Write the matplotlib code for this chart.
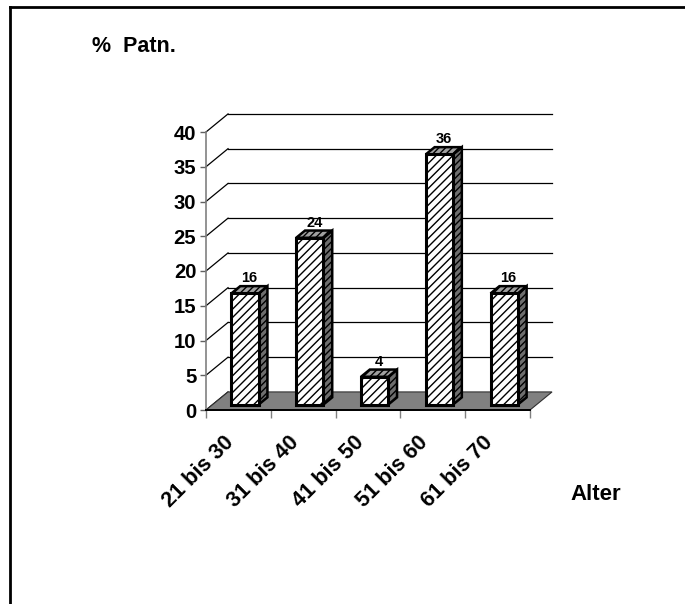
import matplotlib
matplotlib.use("Agg")
import matplotlib.pyplot as plt
from matplotlib.patches import Polygon, Rectangle
from matplotlib.lines import Line2D
from matplotlib.transforms import ScaledTranslation

# Data
categories = ["21 bis 30", "31 bis 40", "41 bis 50", "51 bis 60", "61 bis 70"]
values = [16, 24, 4, 36, 16]
y_ticks = [0, 5, 10, 15, 20, 25, 30, 35, 40]
y_label = "%  Patn."
x_label = "Alter"

plt.rcParams["font.family"] = ["Liberation Sans", "DejaVu Sans"]
plt.rcParams["font.weight"] = "bold"
plt.rcParams["hatch.linewidth"] = 1.0

W, H = 685, 604
fig = plt.figure(figsize=(W / 100, H / 100), dpi=100)

# Front plane of the 3-D box
ax = fig.add_axes([206 / W, 194 / H, 324 / W, 278 / H])
ax.set_xlim(0, len(categories))
ax.set_ylim(0, 40)
ax.set_facecolor("none")

# Depth offset of the back wall, in data units
DX, DY = 0.34, 2.6
n = len(categories)

# Back-wall and side-wall grid lines
for v in y_ticks:
    if v > 0:
        ax.plot([DX, n + DX], [v + DY, v + DY], color="black", lw=0.9,
                clip_on=False, zorder=1)
    ax.plot([0, DX], [v, v + DY], color="black", lw=0.9,
            clip_on=False, zorder=1)

# Floor
floor = Polygon([(0, 0), (n, 0), (n + DX, DY), (DX, DY)], closed=True,
                facecolor="#808080", edgecolor="#303030", lw=0.8,
                clip_on=False, zorder=2)
ax.add_patch(floor)

# Bars
bw = 0.42
f0 = 0.30   # depth of bar front face (fraction of full depth)
fd = 0.40   # bar depth (fraction of full depth)
ddx, ddy = fd * DX, fd * DY
for i, v in enumerate(values):
    xl = i + 0.5 - bw / 2 + f0 * DX
    xr = xl + bw
    yb = f0 * DY
    yt = yb + v
    side = Polygon([(xr, yb), (xr + ddx, yb + ddy), (xr + ddx, yt + ddy), (xr, yt)],
                   closed=True, facecolor="#6e6e6e", edgecolor="black", lw=1.8,
                   hatch="/////", clip_on=False, zorder=3, joinstyle="miter")
    top = Polygon([(xl, yt), (xr, yt), (xr + ddx, yt + ddy), (xl + ddx, yt + ddy)],
                  closed=True, facecolor="#a0a0a0", edgecolor="black", lw=1.8,
                  hatch="/////", clip_on=False, zorder=3, joinstyle="miter")
    front = Rectangle((xl, yb), bw, v, facecolor="white", edgecolor="black",
                      lw=2.2, hatch="////", clip_on=False, zorder=4,
                      joinstyle="miter")
    for p in (side, top, front):
        ax.add_patch(p)
    ax.text((xl + xr) / 2 + ddx / 2, yt + ddy + 0.15, str(v), ha="center",
            va="bottom", fontsize=10.5, fontweight="bold", zorder=5)

# Axes styling
for s in ("top", "right"):
    ax.spines[s].set_visible(False)
ax.spines["left"].set_color("#808080")
ax.spines["left"].set_linewidth(1.2)
ax.spines["bottom"].set_color("black")
ax.spines["bottom"].set_linewidth(1.4)
ax.spines["bottom"].set_zorder(2.5)

ax.set_yticks(y_ticks)
ax.set_yticklabels([str(t) for t in y_ticks], fontsize=14.6, fontweight="bold")
ax.tick_params(axis="y", direction="out", length=4, width=1, color="#606060", pad=3)

ax.set_xticks(range(n + 1))
ax.set_xticklabels([])
ax.tick_params(axis="x", direction="out", length=6, width=1, color="#808080")

label_off = ScaledTranslation(-15 / 100, -22 / 100, fig.dpi_scale_trans)
for i, c in enumerate(categories):
    ax.text(i + 0.5, 0, c, transform=ax.get_xaxis_transform() + label_off,
            rotation=45, rotation_mode="anchor", ha="right", va="top",
            fontsize=15.6, fontweight="bold")

fig.text(92 / W, 1 - 47 / H, y_label, ha="left", va="center",
         fontsize=15.5, fontweight="bold")
fig.text(596 / W, 1 - 495 / H, x_label, ha="center", va="center",
         fontsize=16, fontweight="bold")

# Frame lines along the left and top edges
fig.add_artist(Line2D([10 / W, 10 / W], [0, 1 - 6.5 / H], color="black", lw=2,
                      transform=fig.transFigure, solid_capstyle="projecting"))
fig.add_artist(Line2D([10 / W, 1], [1 - 6.5 / H, 1 - 6.5 / H], color="black", lw=2,
                      transform=fig.transFigure, solid_capstyle="projecting"))

fig.savefig("out.png", dpi=100, facecolor="white")
